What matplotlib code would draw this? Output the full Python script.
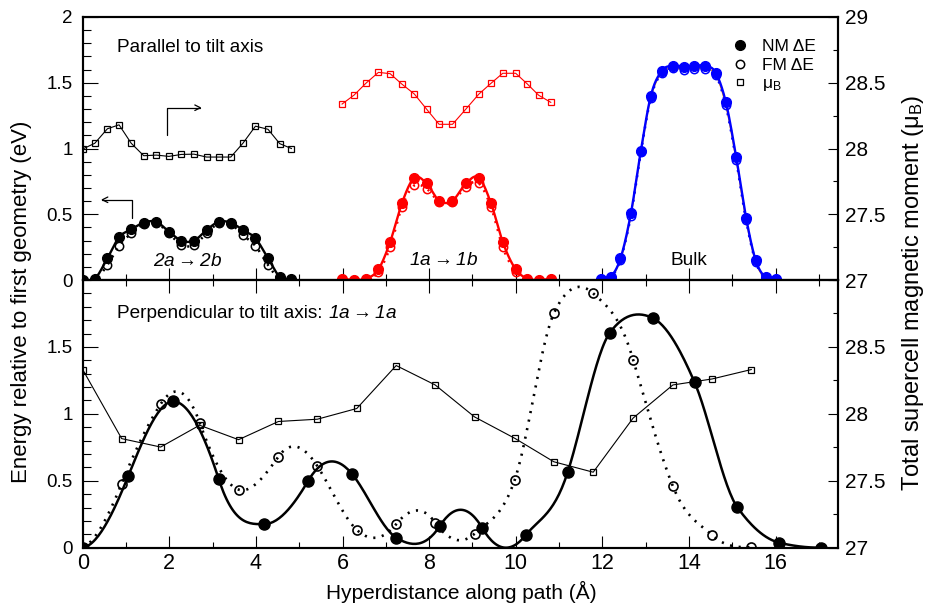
import numpy as np
import matplotlib
matplotlib.use('Agg')
import matplotlib.pyplot as plt
from matplotlib.lines import Line2D
from matplotlib.ticker import MultipleLocator, FixedLocator, FuncFormatter

plt.rcParams['font.family'] = ['Liberation Sans', 'DejaVu Sans']
plt.rcParams['mathtext.fontset'] = 'custom'
plt.rcParams['mathtext.rm'] = 'Liberation Sans'
plt.rcParams['mathtext.it'] = 'Liberation Sans:italic'

# ---- top panel: parallel to tilt axis (three paths laid side by side) ----
par_2a_x = [0, 0.28, 0.57, 0.84, 1.12, 1.41, 1.70, 1.99, 2.28, 2.57, 2.86, 3.14, 3.42, 3.70, 3.99, 4.28, 4.55, 4.82]
par_2a_nm = [0, 0.01, 0.165, 0.325, 0.385, 0.436, 0.443, 0.367, 0.299, 0.299, 0.38, 0.443, 0.436, 0.38, 0.317, 0.165, 0.025, 0.005]
par_2a_fm = [0, 0, 0.114, 0.259, 0.355, 0.425, 0.435, 0.355, 0.266, 0.266, 0.355, 0.43, 0.425, 0.342, 0.259, 0.114, 0.005, 0]
par_2a_mu = [27.996, 28.04, 28.15, 28.18, 28.04, 27.945, 27.95, 27.94, 27.955, 27.957, 27.935, 27.935, 27.935, 28.04, 28.17, 28.146, 28.037, 28.0]

par_1a_x = [5.99, 6.27, 6.54, 6.83, 7.10, 7.37, 7.66, 7.94, 8.23, 8.54, 8.85, 9.15, 9.43, 9.70, 10.0, 10.27, 10.53, 10.81]
par_1a_nm = [0.01, 0, 0.01, 0.081, 0.289, 0.583, 0.778, 0.735, 0.603, 0.603, 0.735, 0.778, 0.583, 0.289, 0.081, 0.01, 0, 0.01]
par_1a_fm = [0.005, 0, 0.005, 0.063, 0.25, 0.555, 0.72, 0.695, 0.595, 0.595, 0.71, 0.735, 0.555, 0.25, 0.063, 0.005, 0, 0.005]
par_1a_mu = [28.338, 28.407, 28.496, 28.579, 28.569, 28.49, 28.414, 28.3, 28.184, 28.184, 28.3, 28.414, 28.496, 28.572, 28.572, 28.49, 28.405, 28.351]

bulk_x = [11.96, 12.2, 12.42, 12.66, 12.89, 13.12, 13.37, 13.64, 13.89, 14.12, 14.37, 14.62, 14.85, 15.09, 15.32, 15.54, 15.77, 16.0]
bulk_nm = [0.01, 0.025, 0.165, 0.507, 0.983, 1.40, 1.589, 1.63, 1.622, 1.627, 1.63, 1.576, 1.356, 0.938, 0.474, 0.152, 0.02, 0.01]
bulk_fm = [0.005, 0.02, 0.155, 0.49, 0.97, 1.385, 1.575, 1.61, 1.60, 1.605, 1.605, 1.56, 1.33, 0.915, 0.455, 0.14, 0.012, 0.005]

# ---- bottom panel: perpendicular to tilt axis, 1a -> 1a ----
perp_nm_x = [0, 1.05, 2.09, 3.14, 4.19, 5.2, 6.23, 7.24, 8.25, 9.23, 10.23, 11.2, 12.17, 13.16, 14.13, 15.12, 16.08, 17.04]
perp_nm = [0, 0.534, 1.093, 0.514, 0.176, 0.496, 0.547, 0.075, 0.163, 0.146, 0.093, 0.564, 1.604, 1.717, 1.236, 0.301, 0.038, 0]
# tangent (force) at each image
perp_nm_slope = [0.05, 0.8, 0.0, -1.0, 0.0, 0.55, -0.4, -0.2, 0.5, -0.55, 0.4, 1.0, 0.45, -0.15, -0.75, -0.45, -0.08, 0]

perp_fm_x = [0, 0.9, 1.8, 2.7, 3.6, 4.52, 5.42, 6.33, 7.24, 8.14, 9.05, 9.98, 10.88, 11.79, 12.71, 13.63, 14.54, 15.44]
perp_fm = [0, 0.479, 1.073, 0.935, 0.434, 0.68, 0.609, 0.133, 0.176, 0.188, 0.105, 0.509, 1.75, 1.90, 1.406, 0.459, 0.093, 0.003]
perp_fm_slope = [0.15, 0.8, 0.5, -0.9, -0.1, 0.45, -0.5, -0.3, 0.4, -0.45, 0.3, 0.95, 0.7, -0.3, -1.1, -0.8, -0.3, 0]
perp_mu = [28.331, 27.815, 27.752, 27.915, 27.807, 27.943, 27.96, 28.04, 28.361, 28.216, 27.977, 27.817, 27.642, 27.564, 27.968, 28.216, 28.261, 28.331]


def hermite(x, y, m, n=30):
    # cubic hermite curve through the images, using the tangents
    x = np.asarray(x, float)
    y = np.asarray(y, float)
    m = np.asarray(m, float)
    xs, ys = [], []
    for i in range(len(x) - 1):
        h = x[i + 1] - x[i]
        t = np.linspace(0, 1, n)
        h00 = 2 * t**3 - 3 * t**2 + 1
        h10 = t**3 - 2 * t**2 + t
        h01 = -2 * t**3 + 3 * t**2
        h11 = t**3 - t**2
        xs.append(x[i] + t * h)
        ys.append(h00 * y[i] + h10 * h * m[i] + h01 * y[i + 1] + h11 * h * m[i + 1])
    return np.concatenate(xs), np.concatenate(ys)


def smooth(x, y):
    return hermite(x, y, np.gradient(np.asarray(y, float), np.asarray(x, float)))


DOT = (0, (0.8, 2.5))
fmt = FuncFormatter(lambda v, p: '%g' % v)

fig = plt.figure(figsize=(9.26, 6.07), dpi=100)
ax_top = fig.add_axes([0.0893, 0.5387, 0.8160, 0.4333])
ax_bot = fig.add_axes([0.0893, 0.0977, 0.8160, 0.4410])
ax_top_r = ax_top.twinx()
ax_bot_r = ax_bot.twinx()

# top panel curves
for x, nm, fm, col in [(par_2a_x, par_2a_nm, par_2a_fm, 'k'),
                       (par_1a_x, par_1a_nm, par_1a_fm, 'red'),
                       (bulk_x, bulk_nm, bulk_fm, 'blue')]:
    if col == 'blue':
        ax_top.plot(*smooth(x, fm), color='orange', lw=1.0, zorder=2)
    ax_top.plot(*smooth(x, nm), color=col, lw=1.7, zorder=3)
    ax_top.plot(*smooth(x, fm), color=col, lw=1.8, ls=DOT, zorder=3)
    ax_top.plot(x, nm, 'o', color=col, ms=7, zorder=4)
    ax_top.plot(x, fm, 'o', mfc='none', mec=col, ms=6, mew=1.1, zorder=5)

ax_top_r.plot(par_2a_x, par_2a_mu, '-s', color='k', mfc='none', ms=5, lw=0.8, mew=0.9)
ax_top_r.plot(par_1a_x, par_1a_mu, '-s', color='red', mfc='none', ms=5, lw=0.8, mew=0.9)

# bottom panel curves
ax_bot.plot(*hermite(perp_nm_x, perp_nm, perp_nm_slope), color='k', lw=1.8)
ax_bot.plot(*hermite(perp_fm_x, perp_fm, perp_fm_slope), color='k', lw=1.9, ls=DOT)
ax_bot.plot(perp_nm_x, perp_nm, 'o', color='k', ms=8)
ax_bot.plot(perp_fm_x, perp_fm, 'o', mfc='none', mec='k', ms=6.5, mew=1.2)
ax_bot_r.plot(perp_fm_x, perp_mu, '-s', color='k', mfc='none', ms=4.8, lw=0.8, mew=0.9)

# axes, ticks
for ax in (ax_top, ax_bot):
    ax.set_xlim(0, 17.45)
    ax.set_ylim(0, 2)
    ax.xaxis.set_major_locator(MultipleLocator(2))
    ax.xaxis.set_minor_locator(MultipleLocator(1))
    ax.yaxis.set_minor_locator(MultipleLocator(0.1))
    ax.yaxis.set_major_formatter(fmt)
    ax.tick_params(axis='y', which='both', direction='in', left=True, right=False,
                   labelsize=13.5, pad=7)
    ax.tick_params(axis='y', which='major', length=11, width=0.8)
    ax.tick_params(axis='y', which='minor', length=5.5, width=0.8)
    ax.tick_params(axis='x', which='major', length=9, width=0.8)
    ax.tick_params(axis='x', which='minor', length=4.5, width=0.8)

ax_top.yaxis.set_major_locator(MultipleLocator(0.5))
ax_bot.yaxis.set_major_locator(FixedLocator([0, 0.5, 1, 1.5]))
ax_top.tick_params(axis='x', which='both', direction='in', bottom=True, top=False, labelbottom=False)
ax_bot.tick_params(axis='x', which='both', direction='in', bottom=True, top=True, labelsize=15.5, pad=4)

for ax in (ax_top_r, ax_bot_r):
    ax.set_ylim(27, 29)
    ax.yaxis.set_minor_locator(MultipleLocator(0.25))
    ax.yaxis.set_major_formatter(fmt)
    ax.tick_params(axis='y', which='both', direction='in', right=True, left=False,
                   labelsize=15, pad=5)
    ax.tick_params(axis='y', which='major', length=7, width=0.8)
    ax.tick_params(axis='y', which='minor', length=3.5, width=0.8)
ax_top_r.yaxis.set_major_locator(MultipleLocator(0.5))
ax_bot_r.yaxis.set_major_locator(FixedLocator([27, 27.5, 28, 28.5]))

for ax in (ax_top, ax_bot, ax_top_r, ax_bot_r):
    for s in ax.spines.values():
        s.set_linewidth(1.5)

# annotations
ax_top.text(0.79, 1.77, 'Parallel to tilt axis', fontsize=13.7, va='center')
ax_top.text(2.43, 0.14, '2a$\\rightarrow$2b', style='italic', ha='center', va='center', fontsize=13.7)
ax_top.text(8.34, 0.145, '1a$\\rightarrow$1b', style='italic', ha='center', va='center', fontsize=13.7)
ax_top.text(14.0, 0.15, 'Bulk', ha='center', va='center', fontsize=13.7)
t = ax_bot.text(0.8, 1.75, 'Perpendicular to tilt axis: ', va='center', fontsize=13.7)
ax_bot.annotate('1a$\\rightarrow$1a', xy=(1, 0.5), xycoords=t, va='center', ha='left',
                style='italic', fontsize=13.7)

arrow = dict(arrowstyle='->', lw=0.9, color='k', shrinkA=0, shrinkB=0,
             connectionstyle='angle,angleA=90,angleB=0,rad=0')
ax_top.annotate('', xy=(0.42, 0.61), xytext=(1.15, 0.47), arrowprops=arrow)
ax_top.annotate('', xy=(2.75, 1.31), xytext=(1.95, 1.10), arrowprops=arrow)

handles = [Line2D([], [], marker='o', color='k', ls='none', ms=7),
           Line2D([], [], marker='o', mfc='none', mec='k', ls='none', ms=6, mew=1.1),
           Line2D([], [], marker='s', mfc='none', mec='k', ls='none', ms=5, mew=0.9)]
ax_top_r.legend(handles, ['NM ΔE', 'FM ΔE', 'μ$_\\mathrm{B}$'], loc='upper left',
                bbox_to_anchor=(0.858, 0.917), frameon=False, handlelength=1.0,
                handletextpad=0.8, labelspacing=0.2, fontsize=12.5,
                borderpad=0, borderaxespad=0)

fig.text(0.0234, 0.503, 'Energy relative to first geometry (eV)', rotation=90,
         ha='center', va='center', fontsize=16)
fig.text(0.986, 0.518, 'Total supercell magnetic moment (μ$_\\mathrm{B}$)', rotation=90,
         ha='center', va='center', fontsize=17)
fig.text(0.498, 0.0247, 'Hyperdistance along path (Å)', ha='center', va='center', fontsize=15)

fig.savefig('out.png', dpi=100)
